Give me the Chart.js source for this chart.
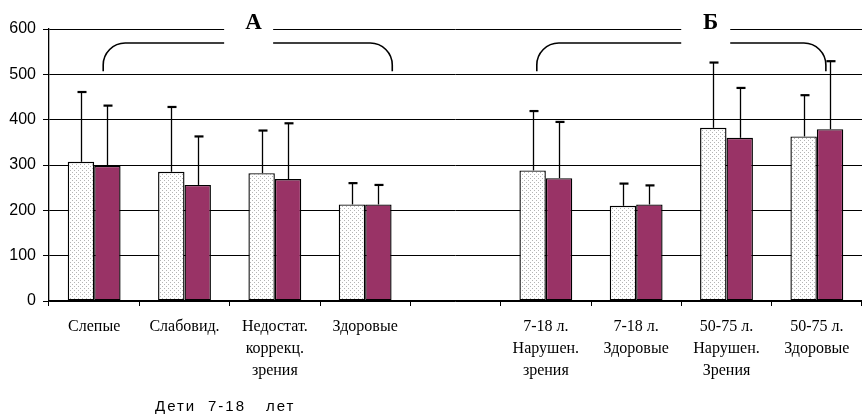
<!DOCTYPE html>
<html>
<head>
<meta charset="utf-8">
<script src="https://cdn.jsdelivr.net/npm/chart.js@4.4.1/dist/chart.umd.min.js"></script>
<style>
    html, body { margin: 0; padding: 0; background: #fff; overflow: hidden; }
    #wrap { position: relative; width: 862px; height: 414px; }
    .note { position: absolute; top: 398px; font: 15px "Liberation Sans", Arial, sans-serif; line-height: 15px; letter-spacing: 2px; color: #000; white-space: nowrap; }
</style>
</head>
<body>
<div id="wrap">
    <canvas id="chart" width="862" height="414"></canvas>
    <span class="note" style="left:155px">Дети</span>
    <span class="note" style="left:208px">7-18</span>
    <span class="note" style="left:266px">лет</span>
</div>
<script>
// categories (multi-line tick labels), the 5th slot is an empty gap
const categories = [
    ['Слепые'],
    ['Слабовид.'],
    ['Недостат.', 'коррекц.', 'зрения'],
    ['Здоровые'],
    [''],
    ['7-18 л.', 'Нарушен.', 'зрения'],
    ['7-18 л.', 'Здоровые'],
    ['50-75 л.', 'Нарушен.', 'Зрения'],
    ['50-75 л.', 'Здоровые']
];

// dotted (light) series and its upper error
const dottedValues = [307, 285, 282, 213, null, 288, 210, 382, 363];
const dottedErrors = [154, 143, 94, 47, null, 131, 49, 144, 91];

// maroon series and its upper error
const maroonValues = [298, 256, 269, 213, null, 271, 213, 360, 379];
const maroonErrors = [133, 107, 123, 43, null, 124, 42, 110, 150];

const yTicks = [0, 100, 200, 300, 400, 500, 600];

// group braces: from/to in category units, label position
const groupLabels = ['А', 'Б'];
const groupFrom = [0.1, 4.9];
const groupTo = [3.3, 8.1];
const groupLabelAt = [1.71, 6.77];

function makeDots() {
    const c = document.createElement('canvas');
    c.width = 4; c.height = 4;
    const g = c.getContext('2d');
    g.fillStyle = '#fff';
    g.fillRect(0, 0, 4, 4);
    g.fillStyle = '#b4b4b4';
    g.fillRect(0, 0, 1, 1);
    g.fillRect(2, 2, 1, 1);
    return g.createPattern(c, 'repeat');
}

const errorBars = {
    id: 'errorBars',
    afterDatasetsDraw(chart) {
        const ctx = chart.ctx;
        const y = chart.scales.y;
        const errs = [dottedErrors, maroonErrors];
        const vals = [dottedValues, maroonValues];
        ctx.save();
        ctx.strokeStyle = '#000';
        chart.data.datasets.forEach((ds, i) => {
            chart.getDatasetMeta(i).data.forEach((bar, j) => {
                if (vals[i][j] == null) return;
                const top = y.getPixelForValue(vals[i][j] + errs[i][j]);
                const x = Math.round(bar.x) + 0.5;
                ctx.lineWidth = 1.3;
                ctx.beginPath();
                ctx.moveTo(x, bar.y);
                ctx.lineTo(x, top);
                ctx.stroke();
                ctx.lineWidth = 2.2;
                ctx.beginPath();
                ctx.moveTo(x - 4, top);
                ctx.lineTo(x + 5, top);
                ctx.stroke();
            });
        });
        ctx.restore();
    }
};

const braces = {
    id: 'braces',
    afterDraw(chart) {
        const ctx = chart.ctx;
        const x = chart.scales.x;
        const y = chart.scales.y;
        const yb = y.getPixelForValue(507);
        const yt = y.getPixelForValue(569);
        const r = 22;
        ctx.save();
        groupLabels.forEach((label, i) => {
            const xl = x.getPixelForValue(groupFrom[i]);
            const xr = x.getPixelForValue(groupTo[i]);
            ctx.strokeStyle = '#000';
            ctx.lineWidth = 1.6;
            ctx.beginPath();
            ctx.moveTo(xl, yb);
            ctx.arcTo(xl, yt, xl + r, yt, r);
            ctx.lineTo(xr - r, yt);
            ctx.arcTo(xr, yt, xr, yb, r);
            ctx.lineTo(xr, yb);
            ctx.stroke();

            const cx = x.getPixelForValue(groupLabelAt[i]);
            ctx.fillStyle = '#fff';
            ctx.fillRect(cx - 24.5, 8, 49, yt - 7);
            ctx.fillStyle = '#000';
            ctx.font = 'bold 23px "Liberation Serif", "Times New Roman", serif';
            ctx.textAlign = 'center';
            ctx.textBaseline = 'middle';
            ctx.fillText(label, cx + 5, y.getPixelForValue(616) + 1);
        });
        ctx.restore();
    }
};

new Chart(document.getElementById('chart'), {
    type: 'bar',
    data: {
        labels: categories,
        datasets: [
            {
                data: dottedValues,
                backgroundColor: makeDots(),
                borderColor: '#000',
                borderWidth: 1.4,
                borderSkipped: false
            },
            {
                data: maroonValues,
                backgroundColor: '#993366',
                borderColor: '#000',
                borderWidth: 1.4,
                borderSkipped: false
            }
        ]
    },
    options: {
        responsive: false,
        animation: false,
        layout: { padding: { top: 29, right: 0, left: 0, bottom: 0 } },
        plugins: {
            legend: { display: false },
            tooltip: { enabled: false }
        },
        datasets: {
            bar: { categoryPercentage: 0.585, barPercentage: 1 }
        },
        scales: {
            x: {
                afterFit: scale => { scale.height = 113; },
                grid: { drawOnChartArea: false, color: '#000', tickLength: 5, offset: true },
                border: { color: '#000', width: 1.3 },
                ticks: {
                    autoSkip: false,
                    maxRotation: 0,
                    padding: 10,
                    color: '#000',
                    font: { family: '"Liberation Serif", "Times New Roman", serif', size: 16, lineHeight: 1.37 }
                }
            },
            y: {
                min: 0,
                max: 600,
                afterFit: scale => { scale.width = 49; },
                afterBuildTicks: scale => { scale.ticks = yTicks.map(v => ({ value: v })); },
                grid: { color: '#000', lineWidth: 1, tickLength: 6 },
                border: { color: '#000', width: 1.3 },
                ticks: {
                    padding: 7,
                    color: '#000',
                    font: { family: '"Liberation Sans", Arial, sans-serif', size: 16 }
                }
            }
        }
    },
    plugins: [errorBars, braces]
});
</script>
</body>
</html>
